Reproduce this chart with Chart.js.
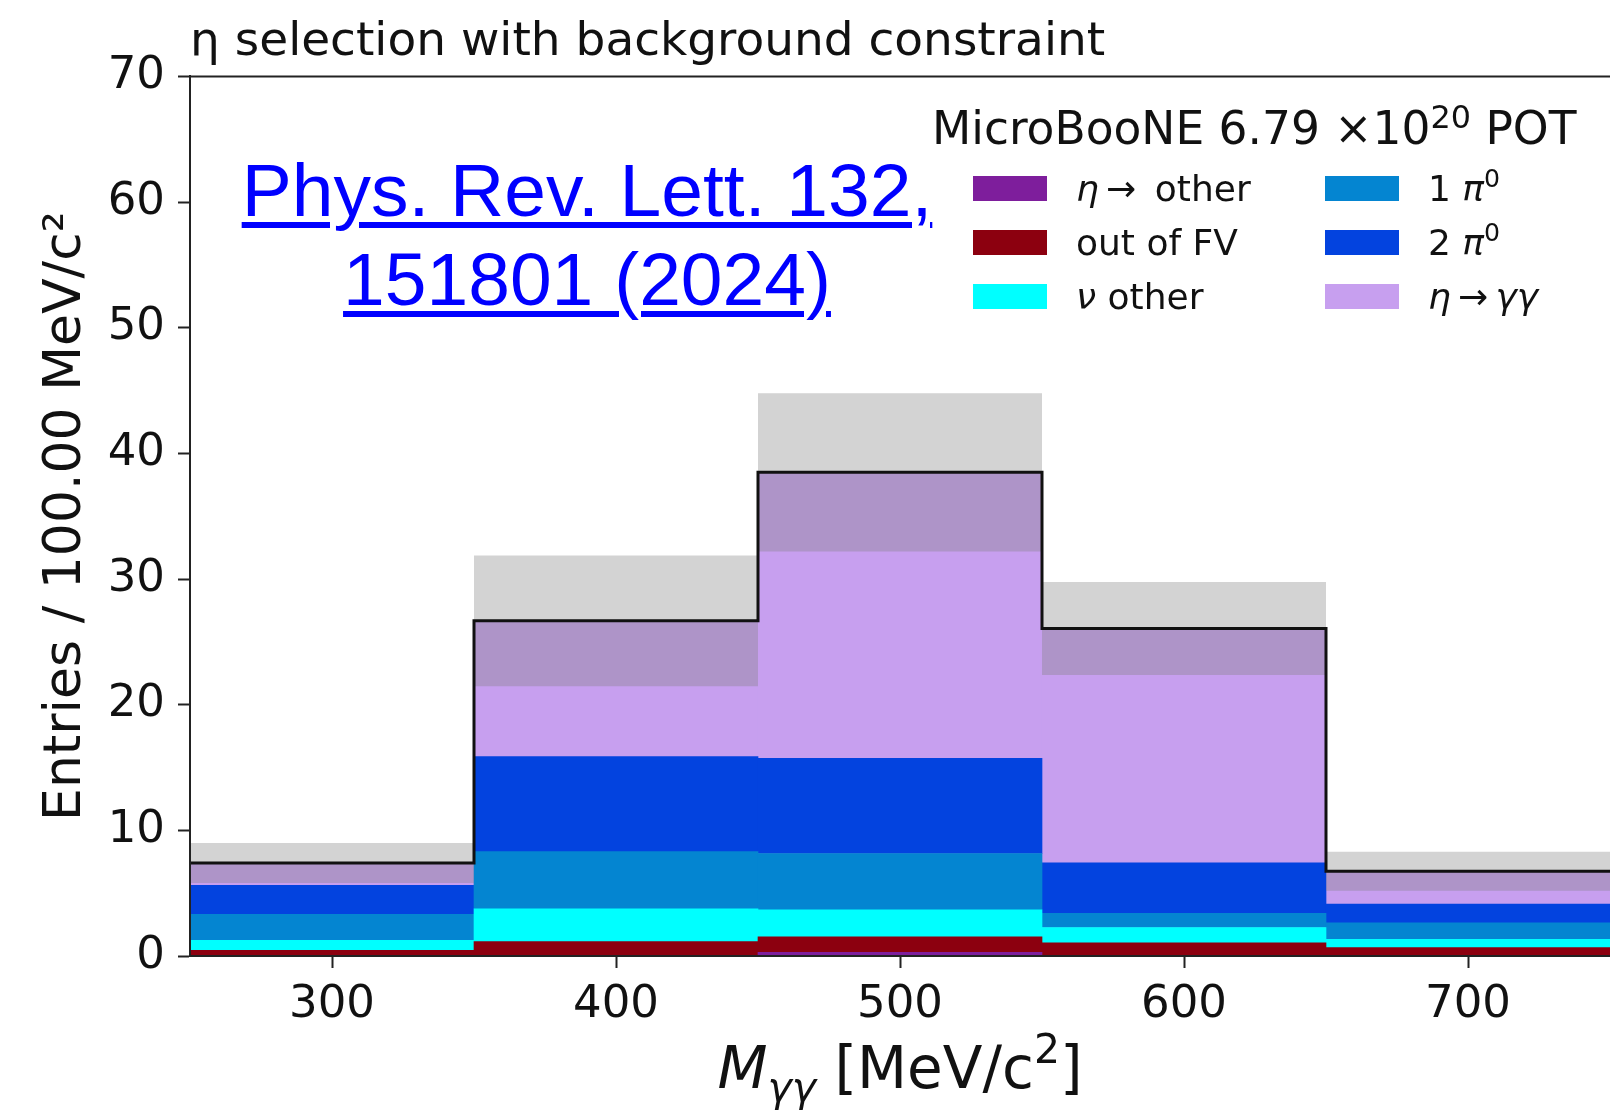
<!DOCTYPE html>
<html>
<head>
<meta charset="utf-8">
<script src="https://cdn.jsdelivr.net/npm/chart.js@4.4.1/dist/chart.umd.min.js"></script>
<style>
  html, body { margin: 0; padding: 0; background: #fff; }
  #wrap { position: relative; width: 1610px; height: 1112px; overflow: hidden; }
  #chart { position: absolute; left: 0; top: 0; }
  .lg-title { position: absolute; left: 932px; top: 104px; font: 45.5px 'DejaVu Sans'; line-height: 50px; color: #111; white-space: nowrap; }
  .lg-title sup { font-size: 0.7em; line-height: 0; vertical-align: 0.5em; }
  #legend-items { position: absolute; left: 973px; top: 161px; margin: 0; padding: 0; list-style: none;
    display: grid; grid-template-columns: 352px auto; grid-template-rows: repeat(3, 54px); grid-auto-flow: column;
    font: 36px 'DejaVu Sans'; color: #111; }
  #legend-items li { display: flex; align-items: center; white-space: nowrap; }
  #legend-items .swatch { display: inline-block; width: 74px; height: 25px; margin-right: 29px; }
  #legend-items sup { font-size: 0.7em; line-height: 0; vertical-align: 0.55em; }
  #ref { position: absolute; left: 187px; top: 146px; width: 800px; text-align: center;
    font: 75px 'Liberation Sans'; line-height: 89px; color: #0000ff; text-decoration: underline;
    text-decoration-thickness: 6px; text-underline-offset: 6px; }
</style>
</head>
<body>
<div id="wrap">
  <canvas id="chart" width="1610" height="1112"></canvas>
  <div class="lg-title">MicroBooNE 6.79 ×10<sup>20</sup> POT</div>
  <ul id="legend-items"></ul>
  <a id="ref" href="https://doi.org/10.1103/PhysRevLett.132.151801">Phys. Rev. Lett. 132, 151801 (2024)</a>
</div>
<script>
// bins of M_gammagamma [MeV/c^2]
const binCenters = [300, 400, 500, 600, 700];
const binEdges = [250, 350, 450, 550, 650, 750];
const xTicks = [300, 400, 500, 600, 700];
const yTicks = [0, 10, 20, 30, 40, 50, 60, 70];

// stacked contributions per bin (bottom to top)
const etaOther = [0.05, 0.05, 0.3, 0.05, 0.05];
const outFV    = [0.4, 1.1, 1.22, 1.0, 0.62];
const nuOther  = [0.8, 2.6, 2.16, 1.22, 0.65];
const onePi0   = [2.07, 4.56, 4.48, 1.12, 1.32];
const twoPi0   = [2.31, 7.56, 7.58, 4.02, 1.49];
const etaGG    = [1.77, 10.8, 22.75, 18.65, 2.62];
// uncertainty on the total
const bkgErr   = [1.6, 5.2, 6.3, 3.7, 1.55];

const totals = binCenters.map((_, i) =>
  etaOther[i] + outFV[i] + nuOther[i] + onePi0[i] + twoPi0[i] + etaGG[i]);

// points at bin edges for the stepped lines
function stepPoints(vals) {
  return binEdges.map((x, i) => ({ x: x, y: vals[Math.min(i, vals.length - 1)] }));
}

function barSet(label, data, color) {
  return { label: label, data: data, backgroundColor: color, borderWidth: 0,
           barPercentage: 1, categoryPercentage: 1, order: 3, stack: 'mc' };
}

const htmlLegend = {
  id: 'htmlLegend',
  afterUpdate(chart) {
    const ul = document.getElementById('legend-items');
    ul.innerHTML = '';
    chart.data.datasets.forEach(ds => {
      if (ds.type === 'line') return;
      const li = document.createElement('li');
      const box = document.createElement('span');
      box.className = 'swatch';
      box.style.background = ds.backgroundColor;
      const txt = document.createElement('span');
      txt.innerHTML = ds.label
        .replace(/([\u03b1-\u03c9])/g, '<i>$1</i>')
        .replace(/\u2070/g, '<sup>0</sup>');
      li.appendChild(box);
      li.appendChild(txt);
      ul.appendChild(li);
    });
  }
};

// top spine + x axis title with italic M and subscript
const frame = {
  id: 'frame',
  afterDatasetsDraw(chart) {
    const { ctx, chartArea: a } = chart;
    ctx.save();
    ctx.strokeStyle = '#222';
    ctx.lineWidth = 2;
    ctx.beginPath();
    ctx.moveTo(a.left, a.top);
    ctx.lineTo(a.right, a.top);
    ctx.stroke();
    ctx.restore();
  },
  afterDraw(chart) {
    const { ctx, chartArea: a } = chart;
    const parts = [
      { t: 'M', f: 'italic 58px "DejaVu Sans"', dy: 0 },
      { t: 'γγ', f: 'italic 41px "DejaVu Sans"', dy: 13 },
      { t: ' [MeV/c', f: '58px "DejaVu Sans"', dy: 0 },
      { t: '2', f: '41px "DejaVu Sans"', dy: -25 },
      { t: ']', f: '58px "DejaVu Sans"', dy: 0 }
    ];
    ctx.save();
    ctx.fillStyle = '#111';
    ctx.textBaseline = 'alphabetic';
    let w = 0;
    parts.forEach(p => { ctx.font = p.f; p.w = ctx.measureText(p.t).width; w += p.w; });
    let x = (a.left + 1610) / 2 - w / 2;
    const base = 1088;
    parts.forEach(p => { ctx.font = p.f; ctx.fillText(p.t, x, base + p.dy); x += p.w; });
    ctx.restore();
  }
};

const ctx = document.getElementById('chart').getContext('2d');
new Chart(ctx, {
  type: 'bar',
  data: {
    labels: binCenters,
    datasets: [
      barSet('η\u2009→\u2009 other', etaOther, '#7e1e9c'),
      barSet('out of FV', outFV, '#8c000f'),
      barSet('ν other', nuOther, '#00ffff'),
      barSet('1 π⁰', onePi0, '#0485d1'),
      barSet('2 π⁰', twoPi0, '#0343df'),
      barSet('η\u2009→\u2009γγ', etaGG, '#c79fef'),
      {
        type: 'line', label: 'err lo', stack: 'lo', order: 2,
        data: stepPoints(totals.map((t, i) => t - bkgErr[i])),
        stepped: true, borderWidth: 0, pointRadius: 0, fill: false
      },
      {
        type: 'line', label: 'err hi', stack: 'hi', order: 1,
        data: stepPoints(totals.map((t, i) => t + bkgErr[i])),
        stepped: true, borderWidth: 0, pointRadius: 0,
        fill: '-1', backgroundColor: 'rgba(128,128,128,0.35)'
      },
      {
        type: 'line', label: 'total', stack: 'tot', order: 0,
        data: stepPoints(totals),
        stepped: true, borderColor: '#111', borderWidth: 3, pointRadius: 0, fill: false
      }
    ]
  },
  options: {
    responsive: false,
    animation: false,
    layout: { padding: { left: 0, right: -4, top: 0, bottom: 0 } },
    scales: {
      x: {
        type: 'linear', min: 250, max: 750, stacked: true, offset: false,
        afterBuildTicks: s => { s.ticks = xTicks.map(v => ({ value: v })); },
        afterFit: s => { s.height = 156; },
        grid: { offset: false, drawOnChartArea: false, tickLength: 12, tickWidth: 2, tickColor: '#222' },
        border: { color: '#222', width: 2, z: 1 },
        ticks: { color: '#111', padding: 10, font: { family: 'DejaVu Sans', size: 45 } }
      },
      y: {
        min: 0, max: 70, stacked: true,
        afterBuildTicks: s => { s.ticks = yTicks.map(v => ({ value: v })); },
        afterFit: s => { s.width = 190; },
        grid: { drawOnChartArea: false, tickLength: 12, tickWidth: 2, tickColor: '#222' },
        border: { color: '#222', width: 2, z: 1 },
        ticks: { color: '#111', padding: 13, font: { family: 'DejaVu Sans', size: 45 } },
        title: { display: true, text: 'Entries / 100.00 MeV/c²', color: '#111',
                 font: { family: 'DejaVu Sans', size: 52 }, padding: { top: 35, bottom: 0 } }
      }
    },
    plugins: {
      legend: { display: false },
      tooltip: { enabled: false },
      title: {
        display: true, text: 'η selection with background constraint', align: 'start',
        fullSize: false, color: '#111',
        font: { family: 'DejaVu Sans', size: 47, weight: 'normal' },
        padding: { top: 15, bottom: 5 }
      }
    }
  },
  plugins: [htmlLegend, frame]
});
</script>
</body>
</html>
